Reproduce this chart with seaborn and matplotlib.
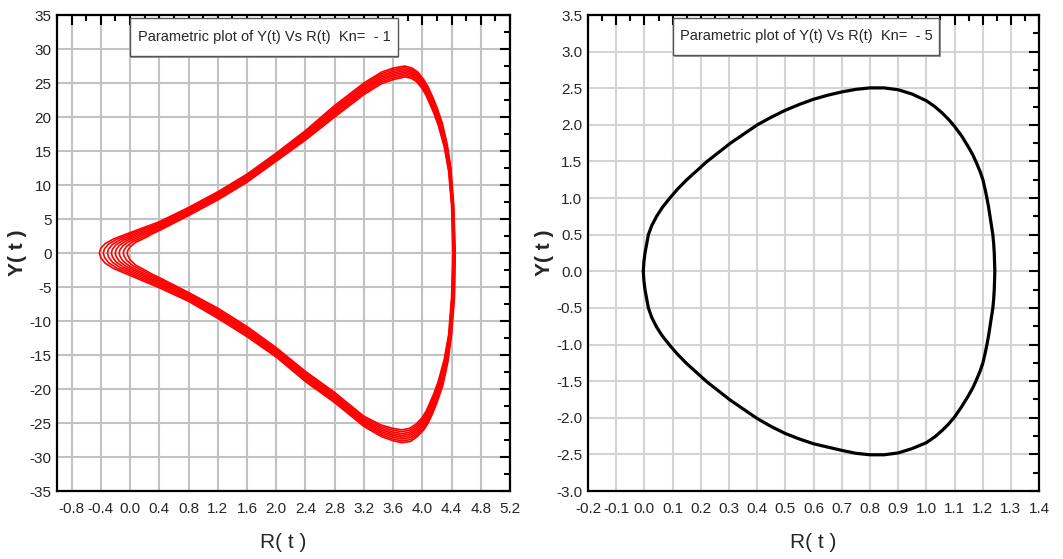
import numpy as np
import pandas as pd
import matplotlib
matplotlib.use("Agg")
import matplotlib.pyplot as plt
import seaborn as sns
from matplotlib.ticker import MultipleLocator, FormatStrFormatter
from matplotlib.patches import Rectangle

# ---------------- data ----------------
# Kn = -1 : outermost and innermost traced loops, upper and lower halves
# (from the left tip towards the right-hand crossing of Y = 0)
R_up_outer = [-0.42, -0.40, -0.34, -0.22, 0.00, 0.20, 0.40, 0.80, 1.20, 1.60, 2.00, 2.40, 2.80,
              3.20, 3.44, 3.60, 3.76, 3.86, 3.94, 4.02, 4.08, 4.14, 4.20, 4.27, 4.34, 4.39, 4.43, 4.45]
Y_up_outer = [0.0, 0.7, 1.4, 2.1, 3.0, 3.8, 4.6, 6.7, 9.0, 11.6, 14.7, 18.0, 21.7,
              25.0, 26.6, 27.2, 27.5, 27.2, 26.6, 25.5, 24.4, 23.0, 21.4, 19.2, 16.0, 12.5, 7.0, 0.0]
R_up_inner = [-0.04, -0.03, 0.00, 0.08, 0.22, 0.30, 0.40, 0.80, 1.20, 1.60, 2.00, 2.40, 2.80,
              3.20, 3.44, 3.60, 3.76, 3.85, 3.92, 3.99, 4.05, 4.10, 4.16, 4.22, 4.30, 4.36, 4.40, 4.42]
Y_up_inner = [0.0, 0.4, 0.9, 1.6, 2.3, 2.8, 3.3, 5.5, 7.8, 10.4, 13.5, 16.6, 20.0,
              23.3, 24.9, 25.5, 25.9, 25.7, 25.2, 24.3, 23.2, 22.0, 20.5, 18.7, 15.6, 12.0, 7.0, 0.0]
R_lo_outer = [-0.42, -0.40, -0.34, -0.22, 0.00, 0.20, 0.40, 0.80, 1.20, 1.60, 2.00, 2.40, 2.80,
              3.20, 3.44, 3.60, 3.72, 3.84, 3.93, 4.02, 4.08, 4.14, 4.20, 4.28, 4.35, 4.40, 4.44, 4.45]
Y_lo_outer = [0.0, -0.7, -1.5, -2.3, -3.3, -4.2, -5.1, -7.1, -9.6, -12.3, -15.3, -18.9, -22.0,
              -25.5, -27.0, -27.6, -27.9, -27.7, -27.0, -26.0, -25.0, -23.6, -22.0, -19.5, -16.0, -12.0, -6.5, 0.0]
R_lo_inner = [-0.04, -0.03, 0.00, 0.08, 0.22, 0.30, 0.40, 0.80, 1.20, 1.60, 2.00, 2.40, 2.80,
              3.20, 3.44, 3.60, 3.72, 3.82, 3.91, 3.99, 4.05, 4.10, 4.16, 4.22, 4.30, 4.36, 4.40, 4.42]
Y_lo_inner = [0.0, -0.4, -1.0, -1.8, -2.6, -3.1, -3.6, -5.8, -8.1, -10.8, -13.9, -17.4, -20.5,
              -24.0, -25.3, -25.8, -26.0, -25.8, -25.2, -24.3, -23.3, -22.1, -20.6, -18.8, -15.6, -12.0, -6.5, 0.0]
# position of each drawn loop between the outermost (0) and innermost (1) traced loops
loop_mix = [0.0, 0.14, 0.29, 0.43, 0.57, 0.71, 0.86, 1.0]

# Kn = -5 : single closed orbit
R_k5 = [-0.004, -0.002, 0.002, 0.014, 0.026, 0.043, 0.064, 0.090, 0.118, 0.150, 0.222, 0.305, 0.400,
        0.450, 0.500, 0.550, 0.600, 0.650, 0.700, 0.750, 0.800, 0.850, 0.900, 0.950, 1.000, 1.030,
        1.057, 1.080, 1.100, 1.125, 1.149, 1.165, 1.178, 1.190, 1.200, 1.208, 1.215, 1.221, 1.226,
        1.231, 1.236, 1.239, 1.241, 1.242, 1.243,
        1.242, 1.241, 1.239, 1.236, 1.231, 1.226, 1.221, 1.215, 1.208, 1.200, 1.190, 1.178, 1.165,
        1.149, 1.125, 1.100, 1.080, 1.057, 1.030, 1.000, 0.950, 0.900, 0.850, 0.800, 0.750, 0.700,
        0.650, 0.600, 0.550, 0.500, 0.450, 0.400, 0.305, 0.222, 0.150, 0.118, 0.090, 0.064, 0.043,
        0.026, 0.014, 0.002, -0.002, -0.004]
Y_k5 = [0.00, 0.125, 0.25, 0.50, 0.625, 0.75, 0.875, 1.00, 1.125, 1.25, 1.50, 1.75, 2.00,
        2.105, 2.20, 2.28, 2.35, 2.405, 2.45, 2.485, 2.505, 2.505, 2.48, 2.42, 2.33, 2.25,
        2.16, 2.07, 1.98, 1.85, 1.70, 1.59, 1.48, 1.37, 1.26, 1.13, 1.00, 0.875, 0.75,
        0.625, 0.50, 0.375, 0.25, 0.125, 0.00,
        -0.125, -0.25, -0.375, -0.50, -0.625, -0.75, -0.875, -1.00, -1.13, -1.26, -1.37, -1.48, -1.59,
        -1.70, -1.85, -1.99, -2.08, -2.17, -2.26, -2.34, -2.42, -2.48, -2.505, -2.505, -2.485, -2.445,
        -2.40, -2.355, -2.29, -2.215, -2.12, -2.01, -1.76, -1.51, -1.26, -1.135, -1.01, -0.885, -0.76,
        -0.63, -0.50, -0.25, -0.125, 0.00]

title_left = "Parametric plot of Y(t) Vs R(t)  Kn=  - 1"
title_right = "Parametric plot of Y(t) Vs R(t)  Kn=  - 5"

# ---------------- build loop table ----------------
rows = []
for k, w in enumerate(loop_mix):
    ru = (1 - w) * np.array(R_up_outer) + w * np.array(R_up_inner)
    yu = (1 - w) * np.array(Y_up_outer) + w * np.array(Y_up_inner)
    rl = (1 - w) * np.array(R_lo_outer) + w * np.array(R_lo_inner)
    yl = (1 - w) * np.array(Y_lo_outer) + w * np.array(Y_lo_inner)
    r = np.concatenate([ru[::-1], rl[1:]])
    y = np.concatenate([yu[::-1], yl[1:]])
    for i, (a, b) in enumerate(zip(r, y)):
        rows.append({"loop": k, "order": i, "R": a, "Y": b})
df1 = pd.DataFrame(rows)
df2 = pd.DataFrame({"R": R_k5, "Y": Y_k5})

# ---------------- style ----------------
sns.set_style("white")
plt.rcParams['font.family'] = ['Liberation Sans', 'DejaVu Sans']
plt.rcParams['axes.unicode_minus'] = False

fig = plt.figure(figsize=(10.63, 5.59), dpi=100)
ax1 = fig.add_axes([0.0536, 0.1216, 0.4262, 0.8515])
ax2 = fig.add_axes([0.5532, 0.1216, 0.4243, 0.8515])

sns.lineplot(data=df1, x="R", y="Y", units="loop", estimator=None, sort=False,
             color="red", lw=1.2, ax=ax1, legend=False)
sns.lineplot(data=df2, x="R", y="Y", estimator=None, sort=False,
             color="black", lw=2.3, ax=ax2, legend=False)
for ln in ax2.lines + ax1.lines:
    ln.set_solid_joinstyle('round')


def style(ax, xlim, ylim, xmaj, xmin, ymaj, ymin, xfmt, yfmt, gridc):
    ax.set_xlim(*xlim)
    ax.set_ylim(*ylim)
    ax.xaxis.set_major_locator(MultipleLocator(xmaj))
    ax.xaxis.set_minor_locator(MultipleLocator(xmin))
    ax.yaxis.set_major_locator(MultipleLocator(ymaj))
    ax.yaxis.set_minor_locator(MultipleLocator(ymin))
    ax.xaxis.set_major_formatter(FormatStrFormatter(xfmt))
    ax.yaxis.set_major_formatter(FormatStrFormatter(yfmt))
    ax.grid(True, which='major', color=gridc, lw=1.5)
    ax.set_axisbelow(True)
    ax.tick_params(which='both', direction='in', top=True, right=True,
                   width=1.5, color='black')
    ax.tick_params(which='major', length=7, labelsize=11)
    ax.tick_params(axis='x', which='major', pad=8)
    ax.tick_params(axis='y', which='major', pad=4)
    ax.tick_params(which='minor', length=4)
    for s in ax.spines.values():
        s.set_visible(True)
        s.set_linewidth(1.6)
        s.set_color('black')
    ax.set_xlabel("R( t )", fontsize=15, labelpad=12)
    ax.set_ylabel("Y( t )", fontsize=15, fontweight='bold', labelpad=2)


style(ax1, (-1.0, 5.2), (-35, 35), 0.4, 0.2, 5, 2.5, '%.1f', '%d', '#c2c2c2')
style(ax2, (-0.2, 1.4), (-3.0, 3.5), 0.1, 0.05, 0.5, 0.25, '%.1f', '%.1f', '#d4d4d4')


def title_box(ax, x0, x1, y0, y1, text):
    ax.add_patch(Rectangle((x0 + 0.003, y0 - 0.004), x1 - x0, y1 - y0, transform=ax.transAxes,
                           fc='#9a9a9a', ec='none', zorder=5, clip_on=False))
    ax.add_patch(Rectangle((x0, y0), x1 - x0, y1 - y0, transform=ax.transAxes,
                           fc='white', ec='#555555', lw=1.0, zorder=6, clip_on=False))
    ax.text((x0 + x1) / 2, (y0 + y1) / 2, text, transform=ax.transAxes, ha='center',
            va='center', fontsize=10.5, zorder=7)


title_box(ax1, 0.161, 0.753, 0.914, 0.994, title_left)
title_box(ax2, 0.188, 0.779, 0.916, 0.994, title_right)

fig.savefig("out.png", dpi=100)
